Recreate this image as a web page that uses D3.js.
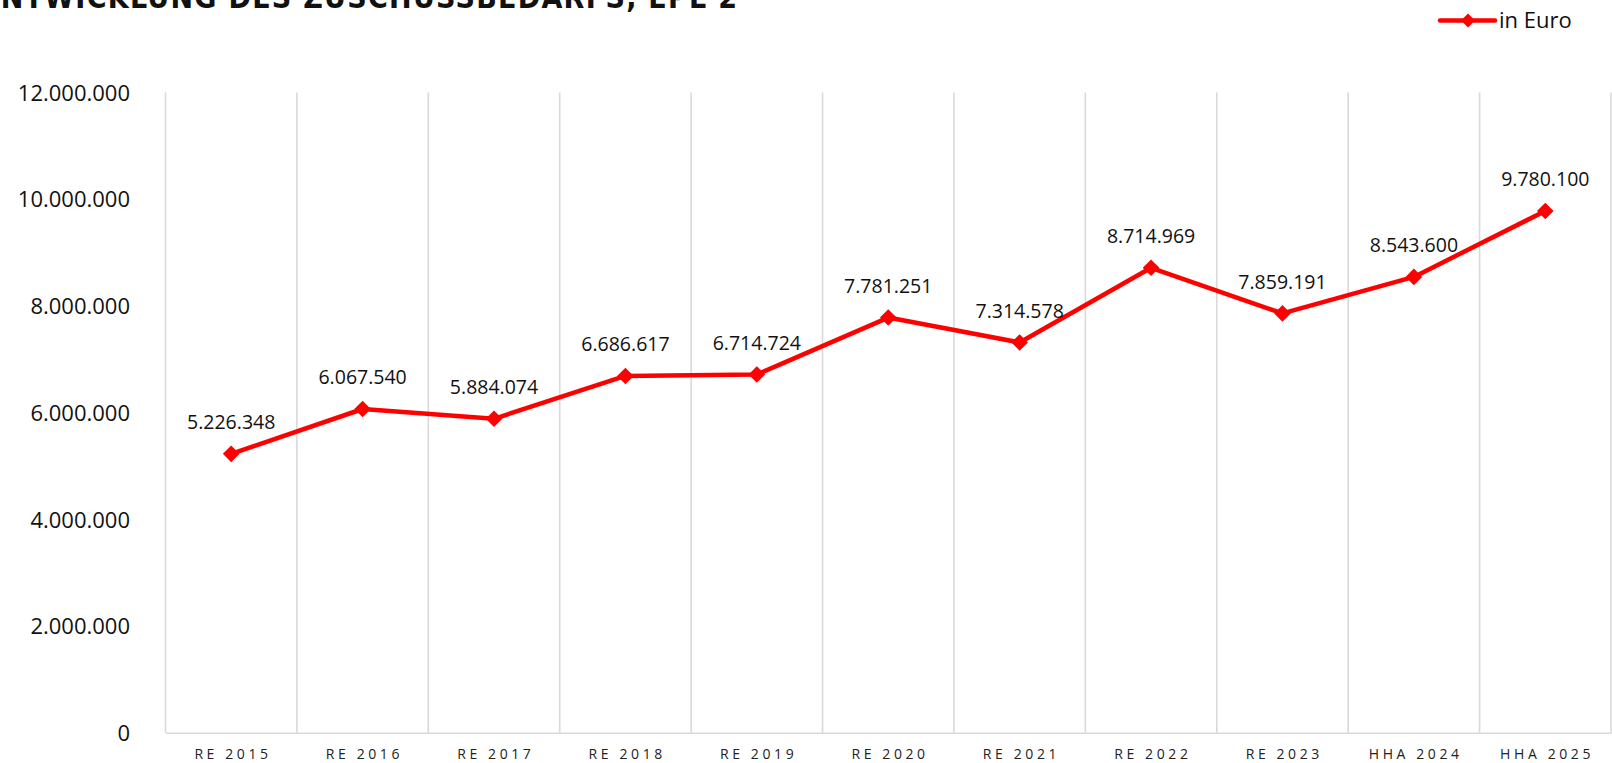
<!DOCTYPE html>
<html>
<head>
<meta charset="utf-8">
<script src="https://cdn.jsdelivr.net/npm/d3@7"></script>
<style>
  html, body { margin: 0; padding: 0; background: #fff; overflow: hidden; }
</style>
</head>
<body>
<div id="chart"></div>
<script>
// Chart data
const categories = ["RE 2015", "RE 2016", "RE 2017", "RE 2018", "RE 2019", "RE 2020",
  "RE 2021", "RE 2022", "RE 2023", "HHA 2024", "HHA 2025"];
const values = [5226348, 6067540, 5884074, 6686617, 6714724, 7781251,
  7314578, 8714969, 7859191, 8543600, 9780100];
const yTicks = [0, 2000000, 4000000, 6000000, 8000000, 10000000, 12000000];
const seriesName = "in Euro";
const title = "ENTWICKLUNG DES ZUSCHUSSBEDARFS, EPL 2";

const width = 1612;
const height = 763;
const marginTop = 92.5;
const marginRight = 1;
const marginBottom = 30.3;
const marginLeft = 165.5;
const red = "#ff0000";
const grid = "#d9d9d9";
const font = "'Open Sans', 'Noto Sans', sans-serif";

const de = d3.formatLocale({ decimal: ",", thousands: ".", grouping: [3], currency: ["", " €"] });
const fmt = de.format(",d");

const x = d3.scaleBand(categories, [marginLeft, width - marginRight]);
const y = d3.scaleLinear([0, 12000000], [height - marginBottom, marginTop]);

const svg = d3.select("#chart")
  .append("svg")
  .attr("width", width)
  .attr("height", height)
  .attr("viewBox", [0, 0, width, height]);

// Title, clipped at the top left like the original
svg.append("text")
  .attr("x", -19)
  .attr("y", 8)
  .attr("textLength", 756)
  .attr("lengthAdjust", "spacing")
  .attr("font-family", "'Liberation Sans Narrow', 'DejaVu Sans Condensed', sans-serif")
  .attr("font-weight", "bold")
  .attr("font-size", 30)
  .attr("fill", "#111")
  .text(title);

// vertical gridlines at category boundaries
const bounds = categories.map(c => x(c)).concat([x(categories[categories.length - 1]) + x.bandwidth()]);
svg.append("g")
  .selectAll("line")
  .data(bounds)
  .join("line")
  .attr("x1", d => d)
  .attr("x2", d => d)
  .attr("y1", y(12000000))
  .attr("y2", y(0))
  .attr("stroke", grid)
  .attr("stroke-width", 1.6);

// x axis
svg.append("g")
  .attr("transform", `translate(0,${y(0)})`)
  .call(d3.axisBottom(x).tickSize(0).tickPadding(0))
  .call(g => g.select(".domain").attr("stroke", grid).attr("stroke-width", 1.6))
  .call(g => g.selectAll("text")
    .attr("font-family", font)
    .attr("font-size", 14)
    .attr("fill", "#222")
    .attr("letter-spacing", 3.6)
    .attr("dx", 1.8)
    .attr("dy", 0)
    .attr("y", 26));

// y axis
svg.append("g")
  .attr("transform", `translate(130,0)`)
  .call(d3.axisLeft(y).tickValues(yTicks).tickFormat(fmt).tickSize(0).tickPadding(0))
  .call(g => g.select(".domain").remove())
  .call(g => g.selectAll("text")
    .attr("font-family", font)
    .attr("font-size", 22)
    .attr("fill", "#111")
    .attr("dy", "0.35em"));

const points = categories.map((c, i) => ({ cat: c, value: values[i] }));
const cx = d => x(d.cat) + x.bandwidth() / 2;

const line = d3.line()
  .x(cx)
  .y(d => y(d.value));

svg.append("path")
  .attr("d", line(points))
  .attr("fill", "none")
  .attr("stroke", red)
  .attr("stroke-width", 4.5)
  .attr("stroke-linejoin", "round");

const diamond = (s) => `M0,${-s}L${s},0L0,${s}L${-s},0Z`;

svg.append("g")
  .selectAll("path")
  .data(points)
  .join("path")
  .attr("transform", d => `translate(${cx(d)},${y(d.value)})`)
  .attr("d", diamond(8.3))
  .attr("fill", red);

svg.append("g")
  .selectAll("text")
  .data(points)
  .join("text")
  .attr("x", cx)
  .attr("y", d => y(d.value) - 24.5)
  .attr("text-anchor", "middle")
  .attr("font-family", font)
  .attr("font-size", 19.5)
  .attr("fill", "#111")
  .text(d => fmt(d.value));

// legend
const lg = svg.append("g").attr("transform", "translate(1440,20.5)");
lg.append("line")
  .attr("x1", 0).attr("x2", 55)
  .attr("stroke", red).attr("stroke-width", 4.5).attr("stroke-linecap", "round");
lg.append("path")
  .attr("transform", "translate(28,0)")
  .attr("d", diamond(7))
  .attr("fill", red);
lg.append("text")
  .attr("x", 59)
  .attr("y", 7.5)
  .attr("font-family", font)
  .attr("font-size", 22)
  .attr("fill", "#111")
  .text(seriesName);
</script>
</body>
</html>
